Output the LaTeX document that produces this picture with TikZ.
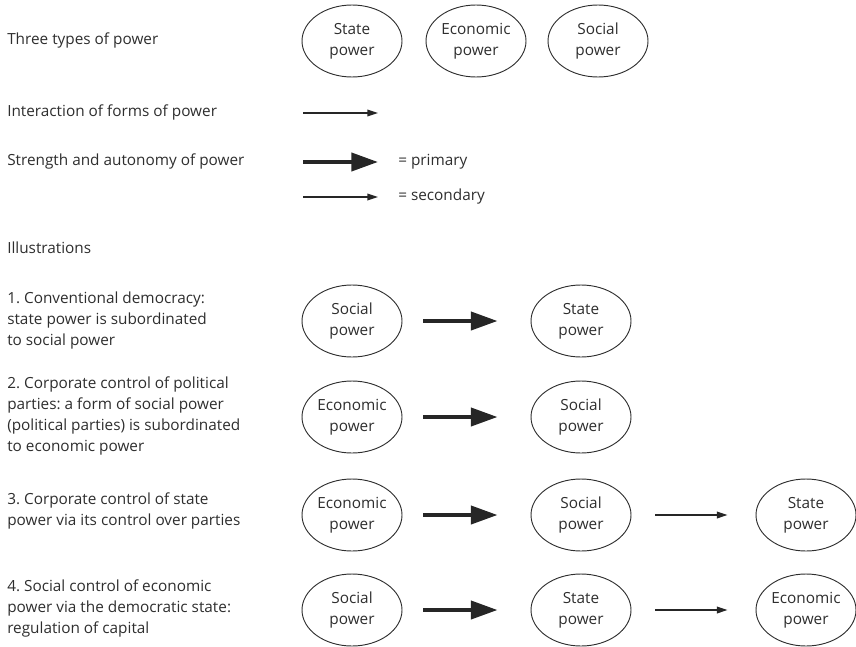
\documentclass[tikz,border=0pt]{standalone}
\usepackage{fontspec}
\setmainfont{Open Sans}
\usetikzlibrary{shapes.geometric,arrows.meta,positioning}
\definecolor{inkgray}{HTML}{2E2E2E}
\newcommand{\bodyfont}{\fontsize{11.5}{15.75}\selectfont\frenchspacing}
\tikzset{
    power/.style={ellipse, draw=inkgray, line width=0.7pt, minimum width=75pt, minimum height=54pt, inner sep=0pt, align=center, text=inkgray, font=\bodyfont},
    caption/.style={anchor=west, align=left, text=inkgray, font=\bodyfont, inner sep=0pt},
    primary/.style={draw=black!85, line width=3pt, -{Triangle[length=20pt,width=13.5pt]}},
    secondary/.style={draw=black!85, line width=1.1pt, -{Triangle[length=8pt,width=5pt]}},
    gap/.style={shorten <=15.75pt, shorten >=24.75pt}
}
\begin{document}
\begin{tikzpicture}[x=0.75pt, y=-0.75pt]
    \useasboundingbox (0,0) rectangle (856,646);

    % legend
    \node [caption] (three) at (7,40) {Three types of power};
    \node [power] (state) at (352,41) {State\\power};
    \node [power, right of=state, node distance=93pt] (economic) {Economic\\power};
    \node [power, right of=economic, node distance=91.5pt] (social) {Social\\power};

    \node [caption] (interact) at (7,112) {Interaction of forms of power};
    \coordinate (intA) at (303,113);
    \coordinate (intB) at (378,113);
    \node [caption] (strength) at (7,161) {Strength and autonomy of power};
    \coordinate (priA) at (303,162);
    \coordinate (priB) at (378,162);
    \coordinate (secA) at (303,197);
    \coordinate (secB) at (378,197);
    \node [caption] (primlabel) at (398,162) {= primary};
    \node [caption] (seclabel) at (398,197) {= secondary};

    \path [secondary] (intA) -- (intB);
    \path [primary] (priA) -- (priB);
    \path [secondary] (secA) -- (secB);

    % illustrations
    \node [caption] (illus) at (7,248) {Illustrations};

    \node [caption] (case1) at (7,321) {1. Conventional democracy:\\state power is subordinated\\to social power};
    \node [power] (soc1) at (352,321) {Social\\power};
    \node [power, right of=soc1, node distance=171.75pt] (sta1) {State\\power};

    \node [caption] (case2) at (7,416) {2. Corporate control of political\\parties: a form of social power\\(political parties) is subordinated\\to economic power};
    \node [power] (eco2) at (352,417) {Economic\\power};
    \node [power, right of=eco2, node distance=171.75pt] (soc2) {Social\\power};

    \node [caption] (case3) at (7,511) {3. Corporate control of state\\power via its control over parties};
    \node [power] (eco3) at (352,515) {Economic\\power};
    \node [power, right of=eco3, node distance=171.75pt] (soc3) {Social\\power};
    \node [power, right of=soc3, node distance=168.75pt] (sta3) {State\\power};

    \node [caption] (case4) at (7,608) {4. Social control of economic\\power via the democratic state:\\regulation of capital};
    \node [power] (soc4) at (352,610) {Social\\power};
    \node [power, right of=soc4, node distance=171.75pt] (sta4) {State\\power};
    \node [power, right of=sta4, node distance=168.75pt] (eco4) {Economic\\power};

    \path [primary, gap] (soc1) -- (sta1);
    \path [primary, gap] (eco2) -- (soc2);
    \path [primary, gap] (eco3) -- (soc3);
    \path [secondary, shorten <=18pt, shorten >=21pt] (soc3) -- (sta3);
    \path [primary, gap] (soc4) -- (sta4);
    \path [secondary, shorten <=18pt, shorten >=21pt] (sta4) -- (eco4);
\end{tikzpicture}
\end{document}
